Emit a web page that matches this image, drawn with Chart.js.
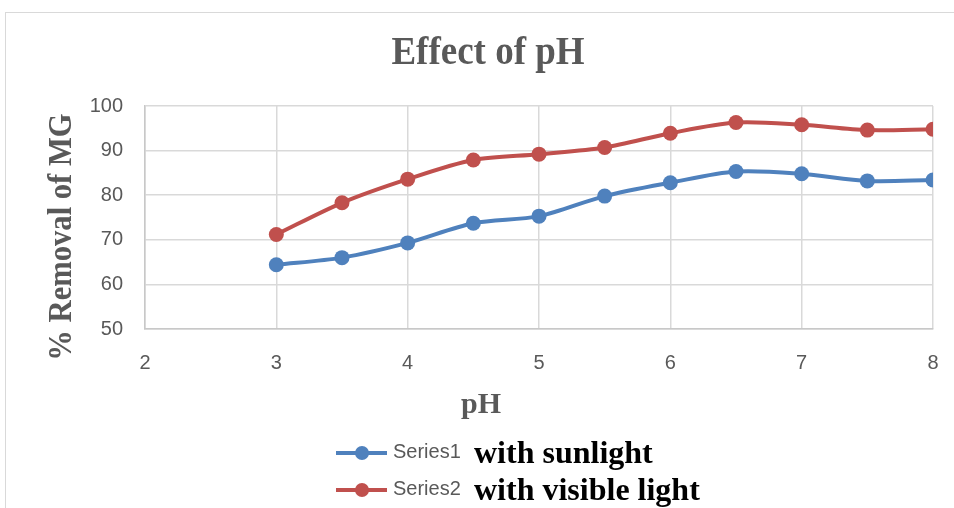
<!DOCTYPE html>
<html>
<head>
<meta charset="utf-8">
<script src="https://cdn.jsdelivr.net/npm/chart.js@4/dist/chart.umd.min.js"></script>
<style>
  body { margin: 0; background: #fff; }
  #wrap { position: relative; width: 954px; height: 508px; overflow: hidden; }
  #frame { position: absolute; left: 5px; top: 12px; width: 960px; height: 520px; border: 1.5px solid #d9d9d9; }
  canvas { position: absolute; left: 0; top: 0; }
</style>
</head>
<body>
<div id="wrap">
  <div id="frame"></div>
  <canvas id="phChart" width="954" height="508"></canvas>
</div>
<script>
// data
const phValues = [3, 3.5, 4, 4.5, 5, 5.5, 6, 6.5, 7, 7.5, 8];
const sunlight = [64.4, 66.0, 69.3, 73.7, 75.3, 79.8, 82.8, 85.3, 84.8, 83.2, 83.4];
const visible = [71.2, 78.3, 83.6, 87.9, 89.2, 90.7, 93.9, 96.3, 95.8, 94.6, 94.8];
const seriesNames = ["Series1", "Series2"];
const seriesNotes = ["with sunlight", "with visible light"];
const chartTitle = "Effect of pH";
const xTitle = "pH";
const yTitle = "% Removal of MG";

const blue = "#4f81bd";
const red = "#c0504d";

// titles + legend drawn by hand (mixed fonts in the legend)
const textPlugin = {
  id: "texts",
  afterDraw(chart) {
    const c = chart.ctx;
    c.save();
    c.textBaseline = "middle";
    c.textAlign = "center";

    // main title, a bit narrow like the reference
    c.fillStyle = "#595959";
    c.font = "bold 40px 'Liberation Serif'";
    c.save();
    c.translate(488, 54);
    c.scale(0.925, 1);
    c.fillText(chartTitle, 0, 0);
    c.restore();

    // y title
    c.font = "bold 34px 'Liberation Serif'";
    c.save();
    c.translate(62, 237);
    c.rotate(-Math.PI / 2);
    c.scale(0.9, 1);
    c.fillText(yTitle, 0, 0);
    c.restore();

    // x title
    c.font = "bold 30px 'Liberation Serif'";
    c.fillText(xTitle, 481, 405);

    // legend
    const rows = [453, 490];
    chart.data.datasets.forEach((ds, i) => {
      const y = rows[i];
      c.strokeStyle = ds.borderColor;
      c.lineWidth = 4;
      c.beginPath();
      c.moveTo(336, y);
      c.lineTo(387, y);
      c.stroke();
      c.fillStyle = ds.borderColor;
      c.beginPath();
      c.arc(362, y, 7, 0, Math.PI * 2);
      c.fill();

      c.textAlign = "left";
      c.fillStyle = "#595959";
      c.font = "20px 'Liberation Sans'";
      c.fillText(seriesNames[i], 393, y - 1);
      c.fillStyle = "#000";
      c.font = "bold 32px 'Liberation Serif'";
      c.fillText(seriesNotes[i], 474, y + 2);
    });
    c.restore();
  },
};

new Chart(document.getElementById("phChart"), {
  type: "line",
  data: {
    datasets: [
      {
        label: seriesNames[0],
        data: phValues.map((x, i) => ({ x: x, y: sunlight[i] })),
        borderColor: blue,
        backgroundColor: blue,
        borderWidth: 4,
        tension: 0.3,
        pointRadius: 7.5,
        pointBorderWidth: 0,
      },
      {
        label: seriesNames[1],
        data: phValues.map((x, i) => ({ x: x, y: visible[i] })),
        borderColor: red,
        backgroundColor: red,
        borderWidth: 4,
        tension: 0.3,
        pointRadius: 7.5,
        pointBorderWidth: 0,
      },
    ],
  },
  options: {
    responsive: false,
    animation: false,
    layout: { autoPadding: false, padding: { left: 85, right: 21, top: 106, bottom: 139 } },
    plugins: {
      legend: { display: false },
      tooltip: { enabled: false },
    },
    scales: {
      x: {
        type: "linear",
        min: 2,
        max: 8,
        afterFit(scale) {
          scale.height = 40;
          scale.paddingLeft = 0;
          scale.paddingRight = 0;
        },
        ticks: {
          stepSize: 1,
          padding: 22,
          color: "#595959",
          font: { family: "'Liberation Sans'", size: 20 },
        },
        grid: { color: "#d9d9d9", lineWidth: 1.5, drawTicks: false },
        border: { color: "#c8c8c8", width: 1.5 },
      },
      y: {
        min: 50,
        max: 100,
        afterFit(scale) { scale.width = 60; },
        ticks: {
          stepSize: 10,
          padding: 22,
          color: "#595959",
          font: { family: "'Liberation Sans'", size: 20 },
        },
        grid: { color: "#d9d9d9", lineWidth: 1.5, drawTicks: false },
        border: { color: "#c8c8c8", width: 1.5 },
      },
    },
  },
  plugins: [textPlugin],
});
</script>
</body>
</html>
